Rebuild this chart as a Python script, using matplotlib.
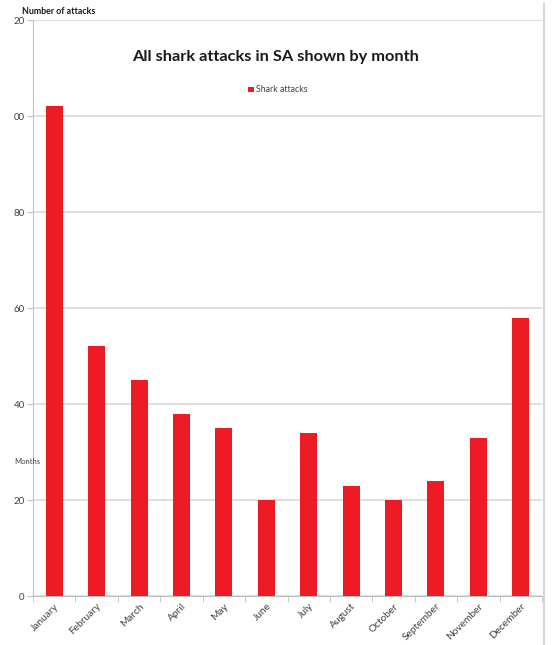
import matplotlib.pyplot as plt
from matplotlib.lines import Line2D

plt.rcParams['font.family'] = ['Lato', 'DejaVu Sans']

miesiace = ['January', 'February', 'March', 'April', 'May', 'June',
            'July', 'August', 'October', 'September', 'November', 'December']
ataki = [102, 52, 45, 38, 35, 20, 34, 23, 20, 24, 33, 58]

yt = [0, 20, 40, 60, 80, 100, 120]
ytz = ['0', '20', '40', '60', '80', '00', '20']

fig = plt.figure(figsize=(5.53, 6.45), dpi=100)
ax = fig.add_axes([33 / 553, 1 - 596 / 645, 509 / 553, 576 / 645])

x = range(len(miesiace))
ax.bar(x, ataki, width=0.4, color='#ED1C24', label='Shark attacks', zorder=3)

ax.set_xlim(-0.5, len(miesiace) - 0.5)
ax.set_ylim(0, 120)
ax.set_yticks(yt, ytz)
ax.set_xticks(list(x), miesiace)
ax.set_xticks([i - 0.5 for i in range(len(miesiace) + 1)], minor=True)
ax.tick_params(axis='x', which='major', length=0, pad=4)
ax.tick_params(axis='x', which='minor', length=4, color='#BFBFBF', direction='out')
ax.tick_params(axis='y', length=4, color='#BFBFBF', labelsize=7, labelcolor='#404040', pad=2)
for lab in ax.get_xticklabels():
    lab.set_rotation(45)
    lab.set_ha('right')
    lab.set_rotation_mode('anchor')
    lab.set_fontsize(7.3)
    lab.set_color('#404040')

ax.grid(axis='y', color='#D9D9D9', linewidth=1.2, zorder=0)
ax.set_axisbelow(True)
for s in ['top', 'right']:
    ax.spines[s].set_visible(False)
ax.spines['left'].set_color('#BFBFBF')
ax.spines['bottom'].set_color('#BFBFBF')

fig.text(276 / 553, 1 - 57 / 645, 'All shark attacks in SA shown by month',
         ha='center', va='center', fontsize=11.8, fontweight='bold', color='#1a1a1a')
fig.text(22 / 553, 1 - 12 / 645, 'Number of attacks', ha='left', va='center',
         fontsize=6.4, fontweight='bold', color='#1a1a1a')
fig.text(14 / 553, 1 - 461 / 645, 'Months', ha='left', va='center',
         fontsize=5.5, color='#404040')
fig.legend(loc='center', bbox_to_anchor=(278 / 553, 1 - 90 / 645), frameon=False,
           fontsize=6.3, handlelength=0.6, handleheight=0.6, handletextpad=0.3,
           labelcolor='#404040')

# ramka wykresu po prawej
fig.add_artist(Line2D([544 / 553, 544 / 553], [0, 1 - 3 / 645], color='#D0D0D0',
                      linewidth=1.2, transform=fig.transFigure))

plt.savefig('out.png')
